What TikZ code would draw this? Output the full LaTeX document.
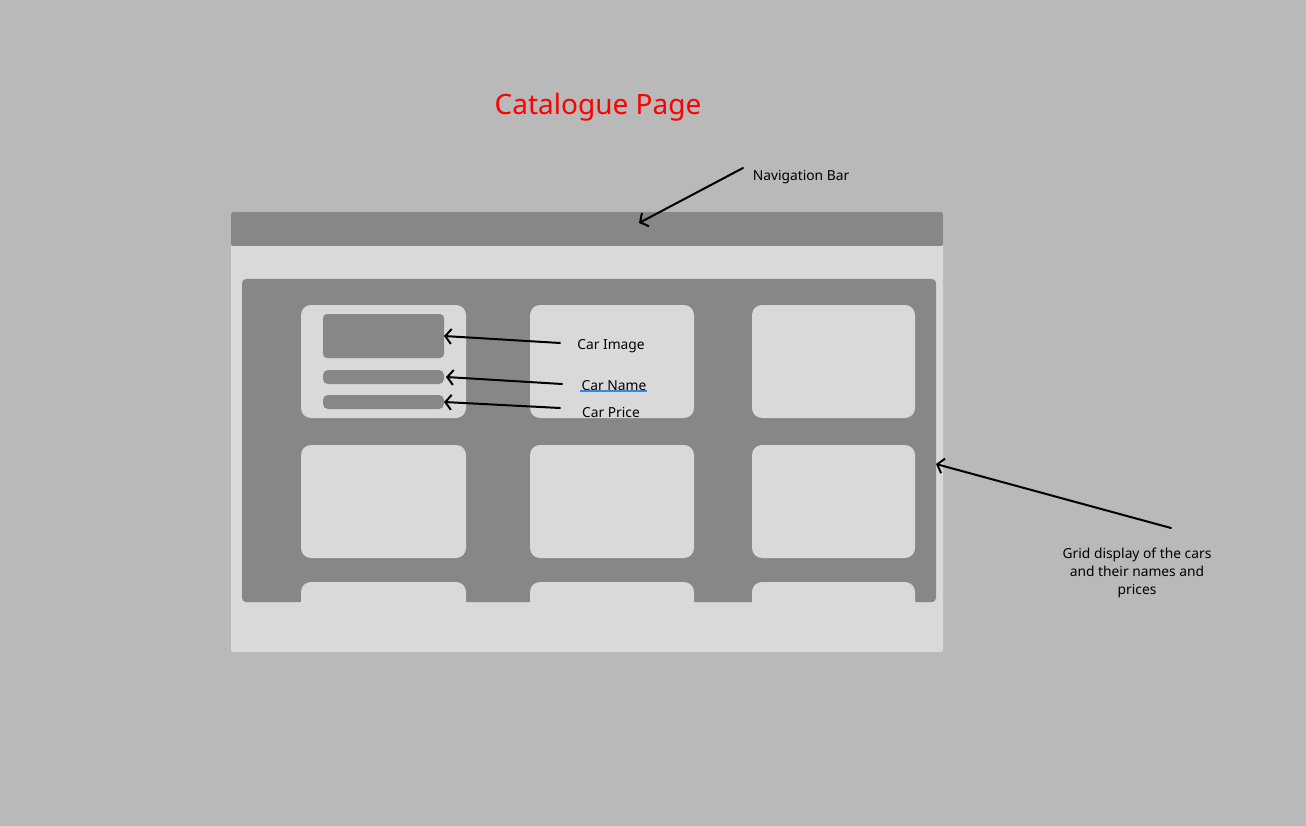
\documentclass[tikz,border=0pt]{standalone}
\usepackage{fontspec}
\setmainfont{Noto Sans}
\usetikzlibrary{arrows.meta}
\definecolor{bgcol}{HTML}{B9B9B9}
\definecolor{pagecol}{HTML}{D9D9D9}
\definecolor{darkcol}{HTML}{878787}
\definecolor{linkblue}{HTML}{2F8CE6}
\tikzset{
  x=1pt, y=-1pt,
  card/.style={fill=pagecol, draw=none, rounded corners=10pt},
  bar/.style={fill=darkcol, draw=none, rounded corners=4pt},
  pointer/.style={line width=2pt, line cap=round, -{Straight Barb[length=6pt,width=15pt,line width=2pt]}},
  note/.style={font=\fontsize{13.8}{16}\selectfont, text=black, inner sep=0pt}
}
\begin{document}
\begin{tikzpicture}
  % canvas
  \fill[bgcol] (0,0) rectangle (1306,826);
  \useasboundingbox (0,0) rectangle (1306,826);

  % title
  \node[font=\fontsize{28}{32}\selectfont, text=red, inner sep=0pt] (title) at (598,107) {Catalogue Page};

  % page frame and navigation bar
  \fill[pagecol, rounded corners=2pt] (231,212) rectangle (943,652);
  \fill[darkcol, rounded corners=2pt] (231,212) rectangle (943,246);
  \coordinate (navtip) at (639,223);

  % grid panel
  \fill[darkcol, rounded corners=4pt] (242,279) rectangle (936,602);
  \coordinate (gridtip) at (936,464);

  % cards in three rows; the third row runs past the panel edge
  \foreach \x/\w in {301/165, 530/164, 752/163}{
    \fill[card] (\x,305) rectangle ++(\w,113);
    \fill[card] (\x,445) rectangle ++(\w,113);
    \fill[card] (\x,582) rectangle ++(\w,58);
  }

  % contents of the first card
  \fill[bar] (323,314) rectangle (444,358);
  \fill[bar, rounded corners=5pt] (323,370) rectangle (444,384);
  \fill[bar, rounded corners=5pt] (323,395) rectangle (444,409);
  \coordinate (imgtip) at (444,336);
  \coordinate (nametip) at (446,377);
  \coordinate (pricetip) at (444,402);

  % labels
  \node[note] (imglbl) at (611,346) {Car Image};
  \node[note] (namelbl) at (614,386) {Car Name};
  \draw[linkblue, line width=2pt] (namelbl.south west) ++(-1,-0.5) -- ++(67,0);
  \node[note] (pricelbl) at (611,412) {Car Price};
  \node[note] (navlbl) at (801,177) {Navigation Bar};
  \node[note, align=center, font=\fontsize{13.8}{18}\selectfont] (gridlbl) at (1137,573) {Grid display of the cars\\and their names and\\prices};

  % pointers
  \coordinate (imgstart) at (560,343);
  \coordinate (namestart) at (562,384);
  \coordinate (pricestart) at (560,408);
  \coordinate (navstart) at (743,168);
  \coordinate (gridstart) at (1171,528);
  \draw[pointer] (imgstart) -- (imgtip);
  \draw[pointer] (namestart) -- (nametip);
  \draw[pointer] (pricestart) -- (pricetip);
  \draw[pointer] (navstart) -- (navtip);
  \draw[pointer] (gridstart) -- (gridtip);
\end{tikzpicture}
\end{document}
